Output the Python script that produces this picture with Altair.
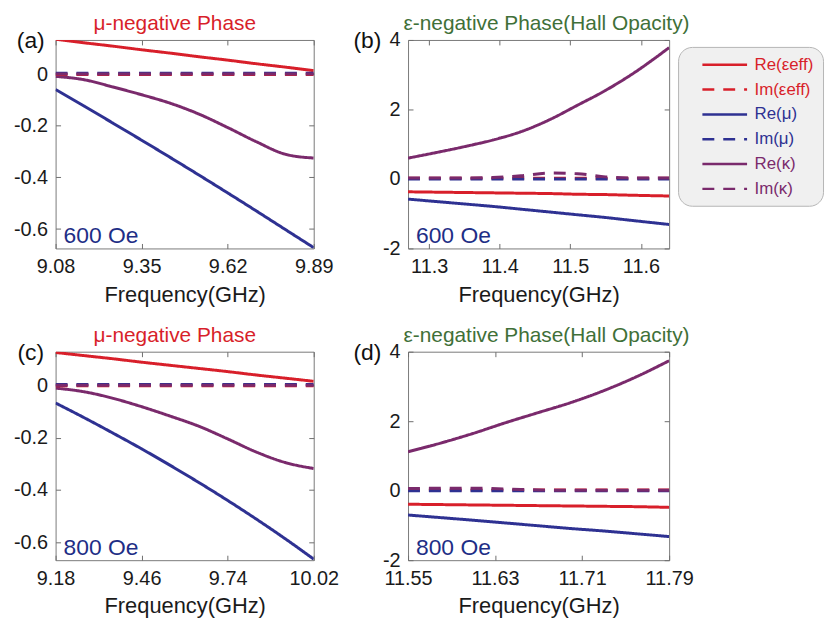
import altair as alt
import pandas as pd

# ---------------- data ----------------
series_names = ["Re(εeff)", "Im(εeff)", "Re(μ)", "Im(μ)", "Re(κ)", "Im(κ)"]
series_colors = ["#d81f2a", "#d81f2a", "#2e3192", "#2e3192", "#7a2a6c", "#7a2a6c"]

# (a) 600 Oe, mu-negative phase
freq_a = [9.08, 9.17, 9.26, 9.35, 9.44, 9.53, 9.62, 9.71, 9.80, 9.89]
re_eps_a = [0.135, 0.121, 0.108, 0.094, 0.081, 0.067, 0.054, 0.040, 0.027, 0.013]
im_eps_a = [-0.002] * 10
re_mu_a = [-0.060, -0.124, -0.190, -0.256, -0.323, -0.391, -0.460, -0.530, -0.601, -0.672]
im_mu_a = [0.003] * 10
re_k_a = [-0.009, -0.022, -0.050, -0.080, -0.113, -0.155, -0.207, -0.262, -0.310, -0.325]
im_k_a = [0.0] * 10

# (b) 600 Oe, epsilon-negative phase
freq_b = [11.27, 11.31, 11.35, 11.39, 11.43, 11.47, 11.51, 11.55, 11.59, 11.64]
re_eps_b = [-0.37, -0.38, -0.39, -0.40, -0.41, -0.42, -0.44, -0.45, -0.47, -0.49]
im_eps_b = [0.02] * 10
re_mu_b = [-0.58, -0.65, -0.72, -0.79, -0.87, -0.95, -1.03, -1.11, -1.20, -1.31]
im_mu_b = [0.0] * 10
re_k_b = [0.60, 0.76, 0.93, 1.12, 1.36, 1.70, 2.12, 2.55, 3.05, 3.78]
im_k_b = [0.03, 0.03, 0.03, 0.04, 0.09, 0.17, 0.15, 0.06, 0.03, 0.03]

# (c) 800 Oe, mu-negative phase
freq_c = [9.18, 9.273, 9.367, 9.46, 9.553, 9.647, 9.74, 9.833, 9.927, 10.02]
re_eps_c = [0.125, 0.113, 0.101, 0.088, 0.076, 0.064, 0.052, 0.039, 0.027, 0.015]
im_eps_c = [-0.002] * 10
re_mu_c = [-0.068, -0.124, -0.183, -0.243, -0.306, -0.372, -0.440, -0.511, -0.586, -0.664]
im_mu_c = [0.003] * 10
re_k_c = [-0.011, -0.025, -0.050, -0.082, -0.118, -0.157, -0.205, -0.255, -0.295, -0.318]
im_k_c = [0.0] * 10

# (d) 800 Oe, epsilon-negative phase
freq_d = [11.55, 11.58, 11.61, 11.64, 11.67, 11.70, 11.73, 11.76, 11.79]
re_eps_d = [-0.39, -0.40, -0.41, -0.42, -0.43, -0.44, -0.45, -0.46, -0.48]
im_eps_d = [0.02] * 9
re_mu_d = [-0.70, -0.775, -0.85, -0.93, -1.01, -1.09, -1.16, -1.24, -1.32]
im_mu_d = [0.0] * 9
re_k_d = [1.12, 1.37, 1.65, 1.96, 2.25, 2.54, 2.88, 3.28, 3.74]
im_k_d = [0.06, 0.07, 0.07, 0.05, 0.02, 0.01, 0.01, 0.01, 0.01]

xticks_a = [9.08, 9.35, 9.62, 9.89]
xticks_b = [11.3, 11.4, 11.5, 11.6]
xticks_c = [9.18, 9.46, 9.74, 10.02]
xticks_d = [11.55, 11.63, 11.71, 11.79]
yticks_mu = [-0.6, -0.4, -0.2, 0]
yticks_eps = [-2, 0, 2, 4]

FONT = "Liberation Sans"
RED = "#d81f2a"
GREEN = "#3f7038"
NAVY = "#1e2e86"
TICK = "#6e6e6e"

series_dash = [[1, 0], [12, 9], [1, 0], [12, 9], [1, 0], [12, 9]]

legend = alt.Legend(
    title=None,
    orient="none",
    legendX=627,
    legendY=7,
    direction="vertical",
    symbolType="M-3,0H3",
    symbolSize=225,
    symbolOffset=29,
    symbolStrokeWidth=2.5,
    labelFont=FONT,
    labelFontSize=17,
    labelOffset=21,
    rowPadding=8,
    padding=9,
    fillColor="#f0f0f0",
    strokeColor="#b5b5b5",
    cornerRadius=14,
    labelColor=alt.ExprRef(
        expr="indexof(datum.label, 'ε') >= 0 ? '#d81f2a' : (indexof(datum.label, 'μ') >= 0 ? '#2e3192' : '#7a2a6c')"
    ),
)


def panel(freq, re_eps, im_eps, re_mu, im_mu, re_k, im_k, width,
          xdom, xticks, ydom, yticks, title, tcolor, tdx, tag, tagx, field_text):
    rows = []
    order = [("Re(εeff)", re_eps), ("Re(μ)", re_mu), ("Re(κ)", re_k),
             ("Im(εeff)", im_eps), ("Im(μ)", im_mu), ("Im(κ)", im_k)]
    for name, vals in order:
        for f, v in zip(freq, vals):
            rows.append({"f": f, "v": v, "series": name})
    df = pd.DataFrame(rows)

    xscale = alt.Scale(domain=xdom, nice=False, zero=False)
    yscale = alt.Scale(domain=ydom, nice=False, zero=False)

    lines = alt.Chart(df).mark_line(strokeWidth=3, interpolate="monotone", clip=True).encode(
        x=alt.X("f:Q", scale=xscale,
                axis=alt.Axis(values=xticks, title="Frequency(GHz)",
                              labelExpr="'' + datum.value", offset=-5, tickSize=5)),
        y=alt.Y("v:Q", scale=yscale,
                axis=alt.Axis(values=yticks, title=None,
                              labelExpr="'' + datum.value", offset=-5, tickSize=5)),
        color=alt.Color("series:N",
                        scale=alt.Scale(domain=series_names, range=series_colors),
                        legend=legend),
        strokeDash=alt.StrokeDash("series:N",
                                  scale=alt.Scale(domain=series_names, range=series_dash),
                                  legend=legend),
        detail="series:N",
    )

    # mirrored inward ticks on top and right edges (MATLAB box style)
    mirror = alt.Chart(df).mark_line(opacity=0).encode(
        x=alt.X("f:Q", scale=xscale,
                axis=alt.Axis(orient="top", values=xticks, title=None, labels=False,
                              offset=-5, tickSize=5)),
        y=alt.Y("v:Q", scale=yscale,
                axis=alt.Axis(orient="right", values=yticks, title=None, labels=False,
                              offset=-5, tickSize=5)),
        detail="series:N",
    )

    tag_df = pd.DataFrame({"t": [tag]})
    tag_mark = alt.Chart(tag_df).mark_text(
        font=FONT, fontSize=23, align="center", baseline="middle", color="#111111"
    ).encode(x=alt.value(tagx), y=alt.value(1), text="t:N")

    oe_df = pd.DataFrame({"t": [field_text]})
    oe_mark = alt.Chart(oe_df).mark_text(
        font=FONT, fontSize=23, align="left", baseline="alphabetic", color=NAVY
    ).encode(x=alt.value(8), y=alt.value(205), text="t:N")

    return alt.layer(lines, mirror, tag_mark, oe_mark).resolve_axis(
        x="independent", y="independent"
    ).properties(
        width=width, height=210,
        title=alt.TitleParams(title, color=tcolor, fontSize=21, font=FONT,
                              fontWeight="normal", anchor="middle", offset=-4, dx=tdx),
    )


pa = panel(freq_a, re_eps_a, im_eps_a, re_mu_a, im_mu_a, re_k_a, im_k_a, 260,
           [9.08, 9.89], xticks_a, [-0.675, 0.132], yticks_mu,
           "μ-negative Phase", RED, -10, "(a)", -25, "600 Oe")
pb = panel(freq_b, re_eps_b, im_eps_b, re_mu_b, im_mu_b, re_k_b, im_k_b, 263,
           [11.27, 11.64], xticks_b, [-2, 4], yticks_eps,
           "ε-negative Phase(Hall Opacity)", GREEN, 8, "(b)", -41, "600 Oe")
pc = panel(freq_c, re_eps_c, im_eps_c, re_mu_c, im_mu_c, re_k_c, im_k_c, 260,
           [9.18, 10.02], xticks_c, [-0.668, 0.128], yticks_mu,
           "μ-negative Phase", RED, -10, "(c)", -25, "800 Oe")
pd_ = panel(freq_d, re_eps_d, im_eps_d, re_mu_d, im_mu_d, re_k_d, im_k_d, 263,
            [11.55, 11.79], xticks_d, [-2, 4], yticks_eps,
            "ε-negative Phase(Hall Opacity)", GREEN, 8, "(d)", -41, "800 Oe")

chart = alt.ConcatChart(
    concat=[pa, pb, pc, pd_],
    columns=2,
    spacing=alt.RowColnumber(row=104, column=95),
    bounds="flush",
).properties(
    autosize=alt.AutoSizeParams(type="pad"),
    padding={"left": 13, "top": 10, "right": 2, "bottom": 1},
).configure_view(
    stroke="#7a7a7a", strokeWidth=1
).configure_axis(
    domain=False,
    grid=False,
    tickColor=TICK,
    tickWidth=1,
    labelFont=FONT,
    labelFontSize=20,
    labelColor="#1a1a1a",
    labelPadding=8,
    labelFlush=False,
    labelOverlap=False,
    titleFont=FONT,
    titleFontSize=22,
    titleFontWeight="normal",
    titleColor="#1a1a1a",
    titlePadding=8,
)

chart.save("out.html", embed_options={"renderer": "svg", "actions": False})
